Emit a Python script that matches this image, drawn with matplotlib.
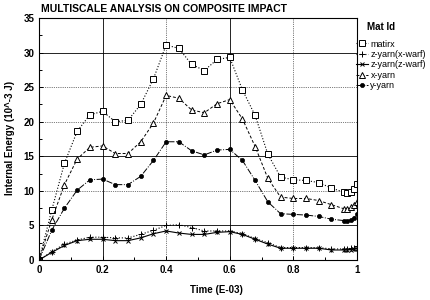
import matplotlib
matplotlib.use("Agg")
import matplotlib.pyplot as plt
from matplotlib.ticker import MultipleLocator
from matplotlib import font_manager

# Data (time in E-03, energy in 10^-3 J)
time = [0, 0.04, 0.08, 0.12, 0.16, 0.20, 0.24, 0.28, 0.32, 0.36, 0.40, 0.44,
        0.48, 0.52, 0.56, 0.60, 0.64, 0.68, 0.72, 0.76, 0.80, 0.84, 0.88,
        0.92, 0.96, 0.97, 0.98, 0.99, 1.0]
matirx = [0, 7.2, 14.0, 18.6, 21.0, 21.5, 20.0, 20.2, 22.5, 26.2, 31.1, 30.6,
          28.3, 27.4, 29.0, 29.3, 24.6, 20.9, 15.3, 12.0, 11.6, 11.5, 11.2,
          10.4, 9.8, 9.7, 9.9, 10.3, 11.0]
z_yarn_x_warf = [0, 1.2, 2.3, 2.9, 3.3, 3.3, 3.2, 3.2, 3.7, 4.3, 5.0, 5.1,
                 4.7, 4.2, 4.2, 4.2, 3.8, 3.1, 2.5, 1.8, 1.8, 1.8, 1.8,
                 1.6, 1.6, 1.6, 1.7, 1.8, 2.0]
z_yarn_z_warf = [0, 1.1, 2.1, 2.8, 3.0, 3.0, 2.8, 2.8, 3.2, 3.8, 4.2, 3.9,
                 3.7, 3.7, 4.0, 4.1, 3.7, 3.0, 2.3, 1.7, 1.7, 1.7, 1.7,
                 1.45, 1.45, 1.45, 1.5, 1.55, 1.65]
x_yarn = [0, 5.8, 10.9, 14.6, 16.3, 16.5, 15.4, 15.4, 17.1, 19.8, 23.8, 23.4,
          21.7, 21.3, 22.6, 23.2, 20.4, 16.4, 11.8, 9.1, 8.9, 8.9, 8.6,
          8.0, 7.4, 7.4, 7.6, 7.9, 8.4]
y_yarn = [0, 4.3, 7.5, 10.1, 11.6, 11.7, 10.9, 10.9, 12.1, 14.4, 17.1, 17.1,
          15.8, 15.2, 15.9, 16.0, 14.4, 11.5, 8.4, 6.7, 6.6, 6.5, 6.3,
          5.9, 5.7, 5.7, 5.8, 6.1, 6.6]

names = [f.name for f in font_manager.fontManager.ttflist]
if "Liberation Sans Narrow" in names:
    plt.rcParams['font.family'] = ['Liberation Sans Narrow', 'DejaVu Sans']
else:
    plt.rcParams['font.family'] = ['Liberation Sans', 'DejaVu Sans']

fig = plt.figure(figsize=(4.31, 3.0), dpi=100)
ax = fig.add_axes([0.0905, 0.1333, 0.7375, 0.8067])

ax.plot(time, matirx, color='black', ls=':', lw=0.8, marker='s', ms=4.3,
        mfc='white', mew=0.7, label='matirx')
ax.plot(time, z_yarn_x_warf, color='black', ls=':', lw=0.8, marker='+', ms=5,
        mew=0.7, label='z-yarn(x-warf)')
ax.plot(time, z_yarn_z_warf, color='black', ls='-', lw=0.8, marker='x', ms=3.5,
        mew=0.7, label='z-yarn(z-warf)')
ax.plot(time, x_yarn, color='black', ls=(0, (3, 2)), lw=0.7, marker='^', ms=4.3,
        mfc='white', mew=0.7, label='x-yarn')
ax.plot(time, y_yarn, color='black', ls='-.', lw=0.7, marker='o', ms=3,
        mfc='black', mew=0.5, label='y-yarn')

ax.set_xlim(0, 1)
ax.set_ylim(0, 35)
ax.xaxis.set_major_locator(MultipleLocator(0.2))
ax.xaxis.set_minor_locator(MultipleLocator(0.1))
ax.yaxis.set_major_locator(MultipleLocator(5))
ax.yaxis.set_minor_locator(MultipleLocator(2.5))
ax.set_xticks([0, 0.2, 0.4, 0.6, 0.8, 1.0])
ax.set_xticklabels(['0', '0.2', '0.4', '0.6', '0.8', '1'])
ax.tick_params(which='both', direction='in', labelsize=7, width=0.7)
ax.tick_params(which='major', length=3)
ax.tick_params(which='minor', length=2)
for lab in ax.get_xticklabels() + ax.get_yticklabels():
    lab.set_fontweight('bold')

# grid: some lines solid, the rest dotted
for y in [5, 10, 15, 20, 25, 30]:
    solid = y in (5, 15, 30)
    ax.axhline(y, color='black', lw=0.6 if solid else 0.5,
               ls='-' if solid else ':', zorder=0)
for x in [0.2, 0.4, 0.6, 0.8]:
    solid = x in (0.2, 0.6)
    ax.axvline(x, color='black', lw=0.6 if solid else 0.5,
               ls='-' if solid else ':', zorder=0)

for s in ax.spines.values():
    s.set_linewidth(0.8)

fig.text(0.095, 0.955, 'MULTISCALE ANALYSIS ON COMPOSITE IMPACT',
         fontsize=7.5, fontweight='bold', ha='left', va='bottom')
fig.text(0.023, 0.54, 'Internal Energy (10^-3 J)', rotation=90,
         fontsize=7, fontweight='bold', ha='center', va='center')
fig.text(0.502, 0.033, 'Time (E-03)', fontsize=7, fontweight='bold',
         ha='center', va='center')

# legend title sits apart from the entries
fig.text(0.852, 0.91, 'Mat Id', fontsize=7, fontweight='bold',
         ha='left', va='center')
leg = ax.legend(loc='upper left', bbox_to_anchor=(0.826, 0.868),
                bbox_transform=fig.transFigure, frameon=False,
                fontsize=6.5, handlelength=1.3,
                handletextpad=0.3, labelspacing=0.15, borderaxespad=0,
                borderpad=0)

fig.savefig('out.png', dpi=100)
